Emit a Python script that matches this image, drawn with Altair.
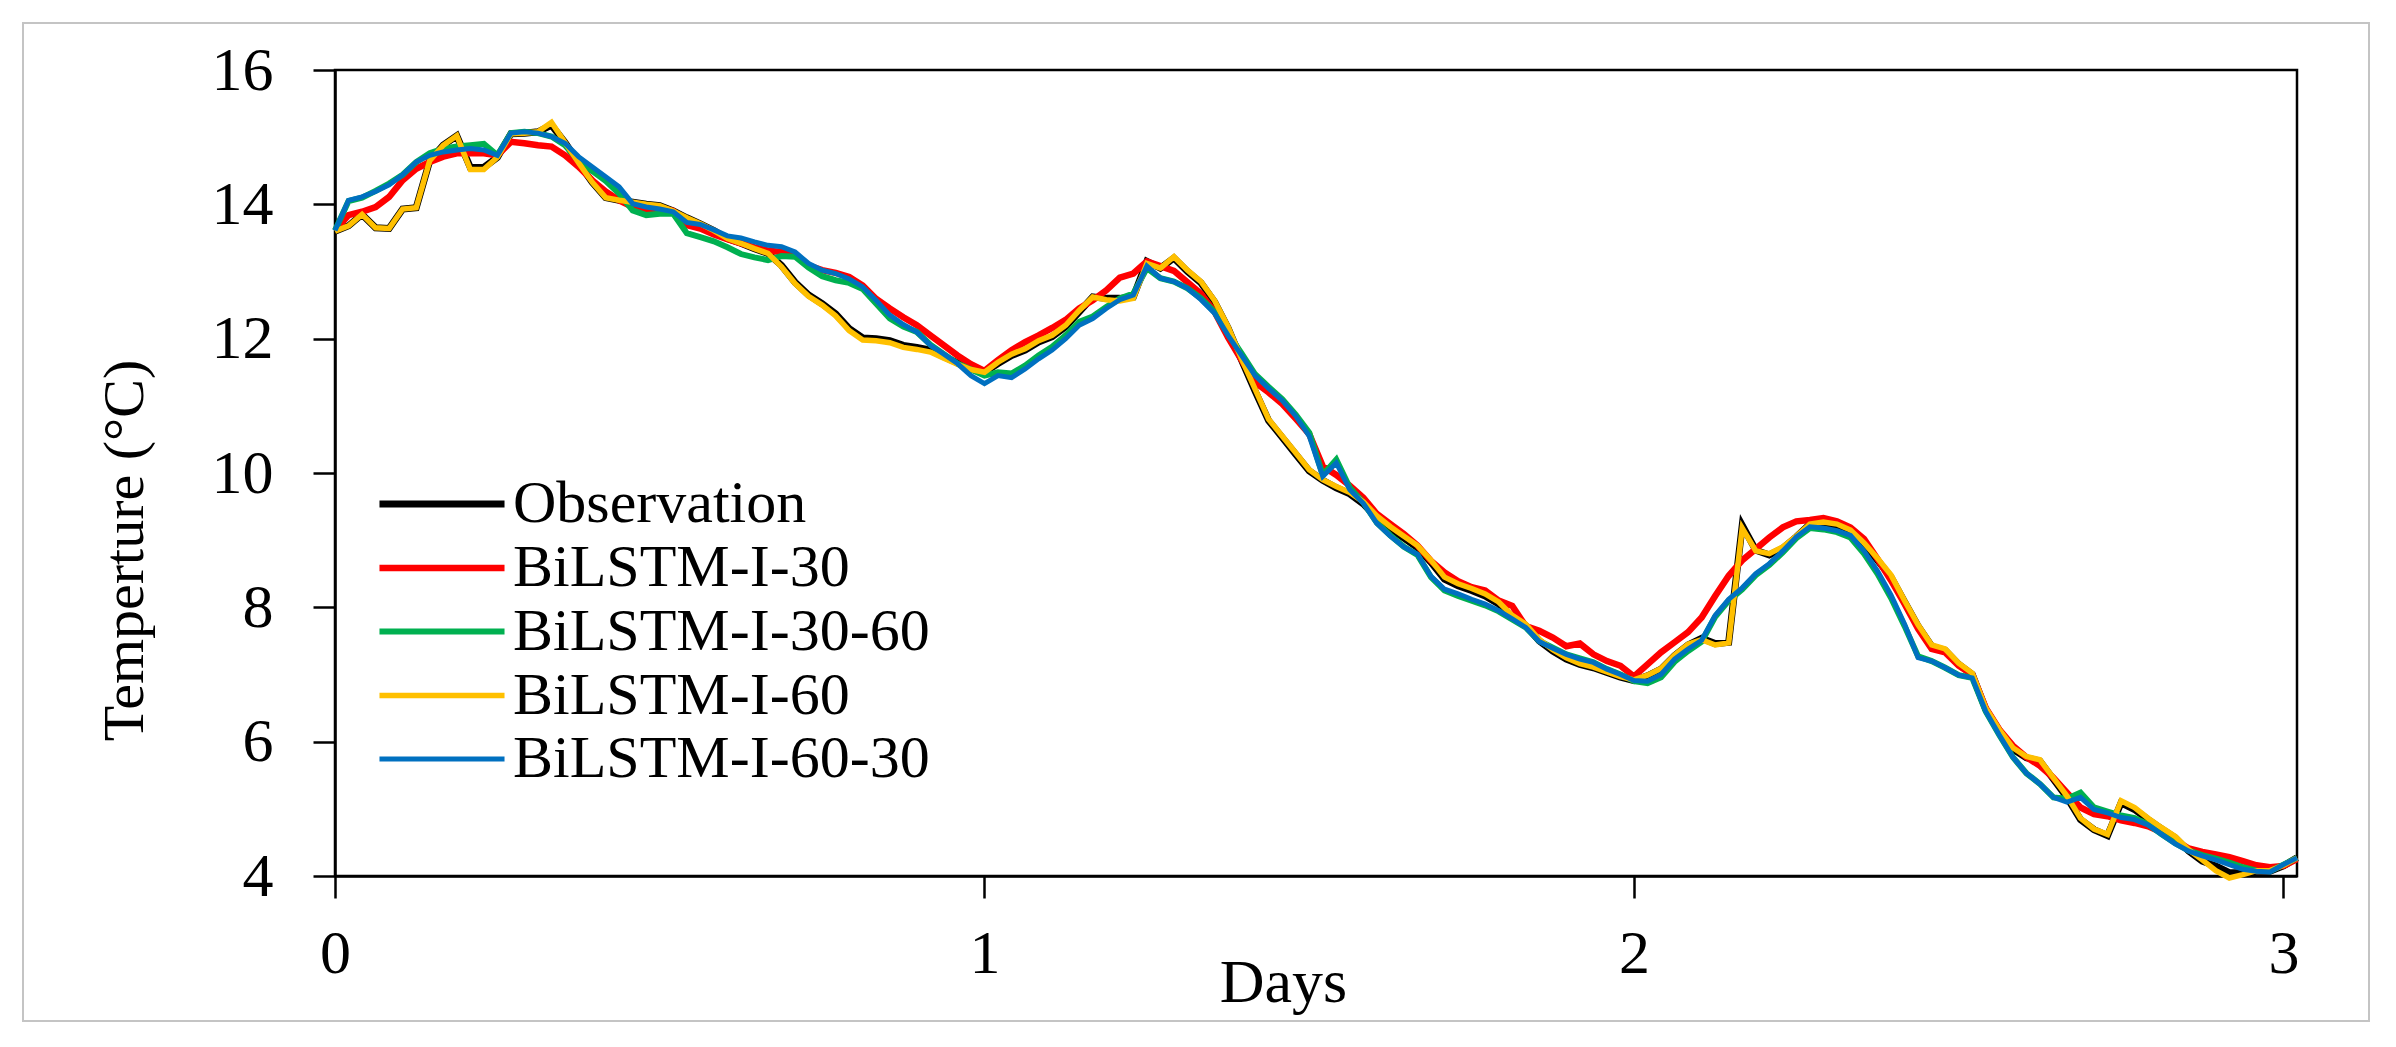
import altair as alt
import pandas as pd

# ---------------- data (30-minute steps) ----------------
half_hour_index = list(range(146))

observation = [
    13.60, 13.68, 13.85, 13.65, 13.64, 13.93, 13.95, 14.65, 14.88, 15.02,
    14.55, 14.55, 14.70, 15.05, 15.06, 15.08, 15.18, 14.92, 14.62, 14.33,
    14.10, 14.06, 14.03, 14.00, 13.98, 13.90, 13.80, 13.71, 13.61, 13.49,
    13.42, 13.34, 13.27, 13.09, 12.84, 12.65, 12.52, 12.37, 12.15, 12.01,
    12.00, 11.97, 11.90, 11.87, 11.83, 11.73, 11.64, 11.55, 11.50, 11.63,
    11.75, 11.83, 11.95, 12.03, 12.18, 12.40, 12.62, 12.60, 12.60, 12.62,
    13.15, 13.05, 13.20, 13.00, 12.83, 12.55, 12.16, 11.68, 11.22, 10.78,
    10.53, 10.28, 10.03, 9.89, 9.78, 9.69, 9.54, 9.33, 9.17, 9.03,
    8.89, 8.67, 8.42, 8.32, 8.25, 8.17, 8.05, 7.85, 7.73, 7.50,
    7.35, 7.23, 7.15, 7.10, 7.03, 6.96, 6.91, 6.98, 7.08, 7.28,
    7.44, 7.54, 7.46, 7.48, 9.22, 8.85, 8.78, 8.88, 9.05, 9.24,
    9.26, 9.22, 9.12, 8.93, 8.70, 8.45, 8.08, 7.72, 7.42, 7.36,
    7.15, 7.00, 6.48, 6.16, 5.89, 5.76, 5.71, 5.44, 5.17, 4.84,
    4.69, 4.60, 5.09, 4.99, 4.84, 4.70, 4.57, 4.37, 4.22, 4.15,
    4.05, 4.05, 4.07, 4.07, 4.15, 4.27,
]

bilstm_i_30 = [
    13.61, 13.84, 13.89, 13.96, 14.11, 14.36, 14.53, 14.63, 14.71, 14.76,
    14.76, 14.76, 14.73, 14.93, 14.91, 14.88, 14.86, 14.73, 14.56, 14.36,
    14.19, 14.06, 13.96, 13.91, 13.95, 13.90, 13.69, 13.64, 13.55, 13.48,
    13.42, 13.36, 13.31, 13.29, 13.24, 13.09, 13.02, 12.98, 12.92, 12.79,
    12.59, 12.45, 12.32, 12.20, 12.05, 11.90, 11.75, 11.62, 11.52, 11.68,
    11.83, 11.95, 12.05, 12.16, 12.28, 12.45, 12.57, 12.72, 12.91, 12.97,
    13.15, 13.08, 13.01, 12.84, 12.67, 12.40, 12.02, 11.68, 11.35, 11.20,
    11.03, 10.81, 10.58, 10.10, 9.97, 9.81, 9.63, 9.39, 9.24, 9.09,
    8.92, 8.69, 8.52, 8.39, 8.30, 8.25, 8.10, 8.02, 7.72, 7.65,
    7.55, 7.42, 7.46, 7.30, 7.20, 7.13, 6.97, 7.15, 7.33, 7.48,
    7.63, 7.85, 8.17, 8.47, 8.70, 8.87, 9.04, 9.19, 9.28, 9.30,
    9.33, 9.28, 9.19, 9.02, 8.72, 8.40, 8.05, 7.68, 7.38, 7.33,
    7.13, 7.00, 6.50, 6.18, 5.94, 5.77, 5.64, 5.46, 5.24, 5.02,
    4.92, 4.89, 4.83, 4.79, 4.74, 4.65, 4.53, 4.41, 4.36, 4.32,
    4.28, 4.22, 4.16, 4.13, 4.15, 4.25,
]

bilstm_i_30_60 = [
    13.61, 14.05, 14.10, 14.20, 14.31, 14.44, 14.63, 14.76, 14.83, 14.86,
    14.88, 14.90, 14.73, 15.06, 15.08, 15.06, 15.01, 14.88, 14.65, 14.50,
    14.35, 14.16, 13.91, 13.84, 13.86, 13.86, 13.57, 13.51, 13.45, 13.36,
    13.26, 13.21, 13.17, 13.23, 13.22, 13.06, 12.93, 12.87, 12.83, 12.74,
    12.52, 12.30, 12.18, 12.10, 11.91, 11.77, 11.63, 11.54, 11.45, 11.50,
    11.48, 11.60, 11.75, 11.88, 12.05, 12.25, 12.33, 12.47, 12.60, 12.67,
    13.05, 12.90, 12.85, 12.75, 12.60, 12.40, 12.08, 11.78, 11.47, 11.28,
    11.10, 10.87, 10.60, 9.97, 10.20, 9.78, 9.56, 9.26, 9.07, 8.90,
    8.78, 8.45, 8.25, 8.17, 8.10, 8.03, 7.94, 7.82, 7.70, 7.50,
    7.40, 7.30, 7.24, 7.18, 7.08, 7.00, 6.90, 6.87, 6.96, 7.19,
    7.35, 7.49, 7.86, 8.10, 8.27, 8.48, 8.63, 8.82, 9.03, 9.18,
    9.16, 9.12, 9.04, 8.80, 8.50, 8.14, 7.72, 7.27, 7.20, 7.10,
    6.99, 6.95, 6.45, 6.10, 5.77, 5.53, 5.37, 5.17, 5.15, 5.24,
    5.02, 4.96, 4.90, 4.86, 4.77, 4.62, 4.49, 4.38, 4.31, 4.26,
    4.20, 4.13, 4.08, 4.07, 4.17, 4.27,
]

bilstm_i_60 = [
    13.60, 13.68, 13.85, 13.65, 13.64, 13.93, 13.95, 14.65, 14.88, 15.02,
    14.52, 14.52, 14.70, 15.05, 15.06, 15.08, 15.22, 14.92, 14.62, 14.33,
    14.10, 14.06, 14.03, 14.00, 13.98, 13.90, 13.80, 13.71, 13.61, 13.49,
    13.42, 13.34, 13.27, 13.07, 12.82, 12.63, 12.50, 12.34, 12.12, 11.98,
    11.97, 11.94, 11.87, 11.84, 11.80, 11.71, 11.62, 11.54, 11.50, 11.65,
    11.77, 11.85, 11.97, 12.05, 12.20, 12.42, 12.62, 12.58, 12.56, 12.60,
    13.12, 13.05, 13.22, 13.02, 12.85, 12.57, 12.18, 11.70, 11.25, 10.80,
    10.55, 10.30, 10.05, 9.90, 9.80, 9.71, 9.57, 9.36, 9.20, 9.06,
    8.92, 8.70, 8.45, 8.35, 8.28, 8.20, 8.08, 7.88, 7.75, 7.52,
    7.37, 7.25, 7.16, 7.11, 7.04, 6.97, 6.92, 6.99, 7.09, 7.29,
    7.45, 7.52, 7.44, 7.47, 9.18, 8.84, 8.80, 8.90, 9.06, 9.24,
    9.27, 9.24, 9.15, 8.96, 8.73, 8.48, 8.10, 7.74, 7.44, 7.38,
    7.17, 7.02, 6.50, 6.18, 5.91, 5.78, 5.73, 5.46, 5.19, 4.86,
    4.70, 4.62, 5.12, 5.02, 4.86, 4.72, 4.59, 4.39, 4.24, 4.08,
    3.97, 4.02, 4.08, 4.08, 4.16, 4.27,
]

bilstm_i_60_30 = [
    13.61, 14.06, 14.11, 14.19, 14.29, 14.44, 14.63, 14.73, 14.78, 14.81,
    14.83, 14.81, 14.73, 15.06, 15.08, 15.06, 15.01, 14.91, 14.71, 14.56,
    14.41, 14.26, 14.01, 13.96, 13.93, 13.89, 13.73, 13.70, 13.62, 13.53,
    13.50, 13.44, 13.39, 13.37, 13.29, 13.12, 13.02, 12.97, 12.89, 12.77,
    12.57, 12.35, 12.21, 12.10, 11.90, 11.77, 11.63, 11.45, 11.33, 11.45,
    11.42, 11.55, 11.70, 11.83, 12.00, 12.20, 12.30, 12.45, 12.58, 12.65,
    13.08, 12.90, 12.85, 12.75, 12.58, 12.38, 12.05, 11.75, 11.45, 11.26,
    11.08, 10.85, 10.55, 9.95, 10.15, 9.75, 9.55, 9.25, 9.06, 8.90,
    8.79, 8.46, 8.27, 8.20, 8.12, 8.05, 7.95, 7.83, 7.70, 7.49,
    7.39, 7.30, 7.23, 7.18, 7.08, 7.00, 6.91, 6.90, 7.00, 7.23,
    7.38, 7.51, 7.88, 8.12, 8.29, 8.50, 8.65, 8.84, 9.05, 9.20,
    9.18, 9.14, 9.07, 8.84, 8.54, 8.18, 7.75, 7.25, 7.20, 7.10,
    6.99, 6.95, 6.45, 6.10, 5.77, 5.53, 5.37, 5.17, 5.10, 5.17,
    4.99, 4.94, 4.87, 4.84, 4.76, 4.62, 4.48, 4.37, 4.30, 4.24,
    4.17, 4.10, 4.07, 4.06, 4.17, 4.27,
]

series_names = ["Observation", "BiLSTM-I-30", "BiLSTM-I-30-60", "BiLSTM-I-60", "BiLSTM-I-60-30"]
series_colors = ["#000000", "#FF0000", "#00B050", "#FFC000", "#0070C0"]
series_widths = [7, 5, 5, 5, 5]
series_values = [observation, bilstm_i_30, bilstm_i_30_60, bilstm_i_60, bilstm_i_60_30]

x_tick_values = [0, 1, 2, 3]
y_tick_values = [4, 6, 8, 10, 12, 14, 16]

# ---------------- build table ----------------
rows = []
for name, vals in zip(series_names, series_values):
    for h, v in zip(half_hour_index, vals):
        rows.append({"series": name, "days": h / 48.0, "temp": v})
df = pd.DataFrame(rows)

FONT = "Liberation Serif"
W, H = 1962, 806

lines = alt.Chart(df).mark_line().encode(
    x=alt.X(
        "days:Q",
        scale=alt.Scale(domain=[0, 145 / 48.0], nice=False, zero=False),
        axis=alt.Axis(
            values=x_tick_values, format="d", title="Days", grid=False,
            domainColor="black", domainWidth=2.5, tickColor="black", tickWidth=2.5,
            tickSize=22, labelFont=FONT, labelFontSize=62, labelColor="black",
            labelPadding=25, labelFlush=False,
            titleFont=FONT, titleFontSize=62, titleFontWeight="normal", titleColor="black",
            titleX=948, titleY=125, titleAlign="center", titleBaseline="alphabetic",
        ),
    ),
    y=alt.Y(
        "temp:Q",
        scale=alt.Scale(domain=[4, 16], nice=False, zero=False),
        axis=alt.Axis(
            values=y_tick_values, title="Temperture (°C)", grid=False,
            domainColor="black", domainWidth=2.5, tickColor="black", tickWidth=2.5,
            tickSize=22, labelFont=FONT, labelFontSize=62, labelColor="black",
            labelPadding=40, labelFlush=False,
            titleFont=FONT, titleFontSize=58, titleFontWeight="normal", titleColor="black",
            titleX=-193, titleY=480, titleAngle=270, titleAlign="center",
            titleBaseline="alphabetic",
        ),
    ),
    color=alt.Color(
        "series:N",
        sort=series_names,
        scale=alt.Scale(domain=series_names, range=series_colors),
        title=None,
        legend=alt.Legend(
            orient="none", legendX=73, legendY=400,
            symbolType="M-2.05,0H2.05", symbolSize=3721, symbolStrokeWidth=6,
            labelFont=FONT, labelFontSize=60, labelColor="black", labelOffset=37,
            labelLimit=0, rowPadding=0, padding=0,
        ),
    ),
    strokeWidth=alt.StrokeWidth(
        "series:N",
        sort=series_names,
        scale=alt.Scale(domain=series_names, range=series_widths),
        legend=None,
    ),
)

frame_df = pd.DataFrame({"frame": [0]})
frame = alt.Chart(frame_df).mark_rect(
    fill="white", fillOpacity=0, stroke="#c4c4c4", strokeWidth=2
).encode(
    x=alt.value(-312), x2=alt.value(2034), y=alt.value(-47), y2=alt.value(951)
)

chart = alt.layer(frame, lines).properties(
    width=W, height=H,
    autosize=alt.AutoSizeParams(type="none"),
    padding={"left": 327, "top": 62, "right": 83, "bottom": 164},
    background="white",
).configure_view(stroke="black", strokeWidth=2.5)

chart.save("out.html", embed_options={"renderer": "svg", "actions": False})
